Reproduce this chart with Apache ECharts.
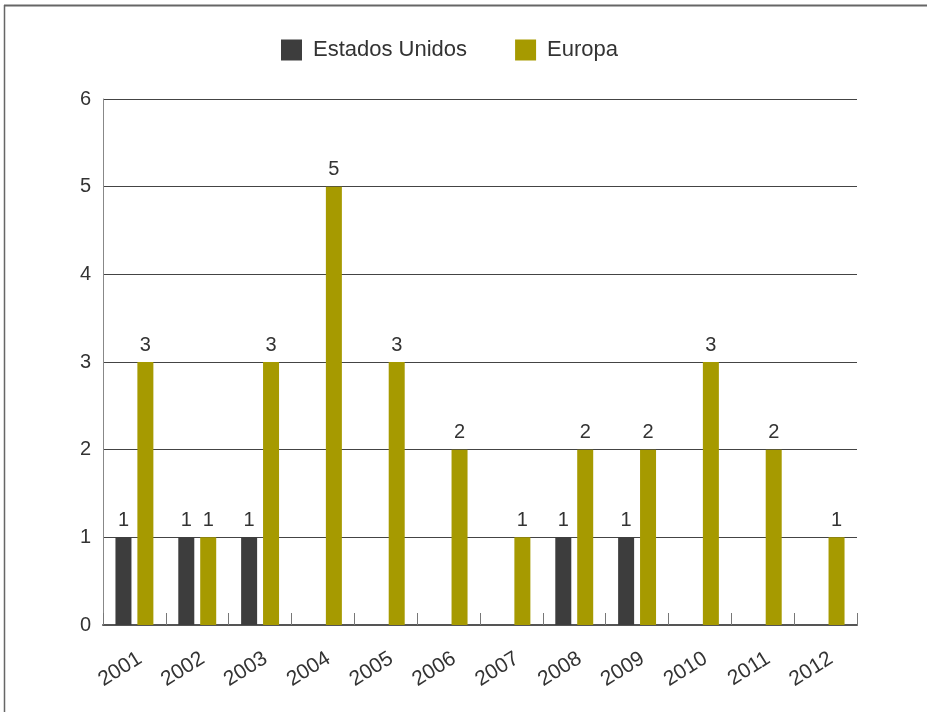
<!DOCTYPE html>
<html><head><meta charset="utf-8">
<script src="https://cdn.jsdelivr.net/npm/echarts@6/dist/echarts.min.js"></script>
<style>html,body{margin:0;padding:0;background:#fff}#c{width:927px;height:712px}</style>
</head><body><div id="c"></div>
<script>
const categories = ['2001','2002','2003','2004','2005','2006','2007','2008','2009','2010','2011','2012'];
const estadosUnidos = [1,1,1,0,0,0,0,1,1,0,0,0];
const europa = [3,1,3,5,3,2,1,2,2,3,2,1];
const yTicks = [0,1,2,3,4,5,6];

const chart = echarts.init(document.getElementById('c'));
const font = 'Liberation Sans, Arial, Helvetica, sans-serif';
const lbl = {show:true, position:'top', distance:7, color:'#333', fontSize:20, fontFamily:font,
  formatter: p => p.value > 0 ? p.value : ''};
chart.setOption({
  animation:false,
  textStyle:{fontFamily:font},
  graphic:[
    {type:'line', shape:{x1:4,y1:5.5,x2:927,y2:5.5}, style:{stroke:'#666',lineWidth:2}},
    {type:'line', shape:{x1:4.5,y1:5,x2:4.5,y2:712}, style:{stroke:'#666',lineWidth:1.5}}
  ],
  legend:{
    top:34, left:276,
    icon:'rect',
    itemWidth:21, itemHeight:21, itemGap:48,
    textStyle:{fontSize:22, color:'#333', fontFamily:font, padding:[0,0,0,6]},
    data:['Estados Unidos','Europa']
  },
  grid:{left:103, right:70, top:99, bottom:87, containLabel:false},
  xAxis:{
    type:'category', data:categories,
    axisLine:{lineStyle:{color:'#555', width:2}},
    axisTick:{show:true, inside:true, length:12, lineStyle:{color:'#777', width:1}},
    axisLabel:{rotate:32, fontSize:21, color:'#333', margin:23, fontFamily:font,
      verticalAlign:'top'}
  },
  yAxis:{
    type:'value', min:yTicks[0], max:yTicks[yTicks.length-1], interval:1,
    axisLine:{show:true, lineStyle:{color:'#888', width:1}},
    axisTick:{show:false},
    splitLine:{lineStyle:{color:'#444', width:1}},
    axisLabel:{fontSize:20, color:'#333', margin:12, fontFamily:font}
  },
  series:[
    {name:'Estados Unidos', type:'bar', data:estadosUnidos, barWidth:16, barGap:'37%',
     itemStyle:{color:'#3d3d3d'}, label:lbl},
    {name:'Europa', type:'bar', data:europa, barWidth:16,
     itemStyle:{color:'#a69a00'}, label:lbl}
  ]
});
</script></body></html>
